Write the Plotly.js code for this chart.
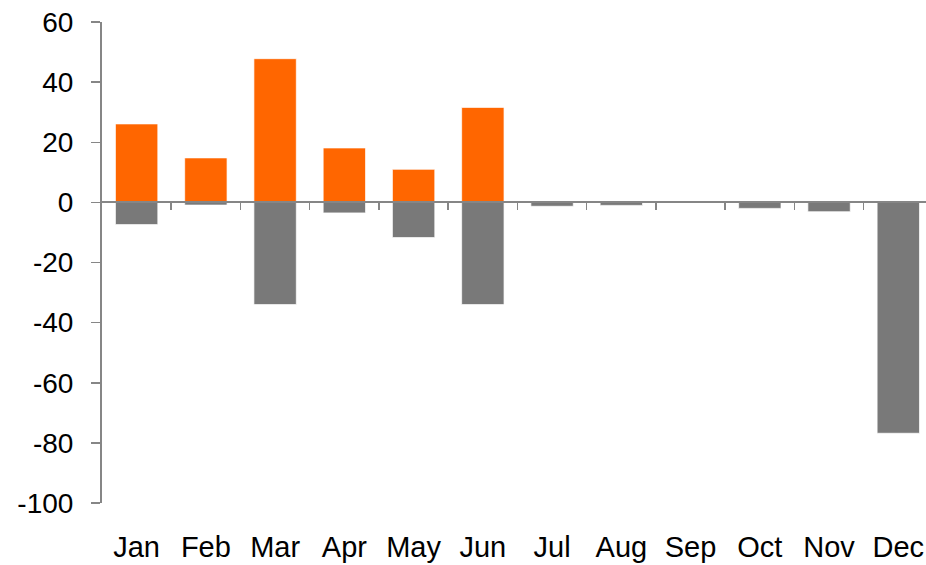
<!DOCTYPE html>
<html>
<head>
<meta charset="utf-8">
<script src="https://cdn.plot.ly/plotly-3.0.1.min.js"></script>
<style>html,body{margin:0;padding:0;background:#fff;}#chart{width:926px;height:565px;}</style>
</head>
<body>
<div id="chart"></div>
<script>
var categories = ['Jan','Feb','Mar','Apr','May','Jun','Jul','Aug','Sep','Oct','Nov','Dec'];
var positiveValues = [26.1, 14.8, 47.8, 18.1, 11.0, 31.6, 0, 0, 0, 0, 0, 0];
var negativeValues = [-7.4, -0.9, -34.0, -3.5, -11.7, -34.0, -1.3, -1.0, 0, -2.0, -3.1, -76.8];
var yTickValues = [-100, -80, -60, -40, -20, 0, 20, 40, 60];
var yTickLabels = ['-100', '-80', '-60', '-40', '-20', '0', '20', '40', '60'];

var xIndex = categories.map(function(c, i){ return i; });
var boundaries = categories.slice(1).map(function(c, i){ return i + 0.5; });

var font = {family: 'Liberation Sans, Arial, sans-serif', size: 28, color: '#000000'};
var axisColor = '#868686';

var traces = [
  {type: 'bar', x: xIndex, y: positiveValues, xaxis: 'x', yaxis: 'y',
   marker: {color: '#FF6600', line: {color: 'rgba(255,255,255,0.7)', width: 1}}, showlegend: false, hoverinfo: 'x+y'},
  {type: 'bar', x: xIndex, y: negativeValues, xaxis: 'x2', yaxis: 'y',
   marker: {color: '#797979', line: {color: 'rgba(255,255,255,0.7)', width: 1}}, showlegend: false, hoverinfo: 'x+y'}
];

var layout = {
  width: 926, height: 565,
  margin: {l: 102, r: 0, t: 22, b: 62, pad: 0},
  paper_bgcolor: '#ffffff', plot_bgcolor: '#ffffff',
  barmode: 'relative', bargap: 0.388,
  font: font,
  xaxis: {
    type: 'linear', range: [-0.5, 11.40],
    tickmode: 'array', tickvals: xIndex, ticktext: categories,
    showline: false, showgrid: false, zeroline: false, ticks: '',
    ticklabelstandoff: 24, tickfont: {family: font.family, size: 29, color: '#000000'}, fixedrange: true
  },
  xaxis2: {
    type: 'linear', range: [-0.5, 11.40], overlaying: 'x', anchor: 'free', position: 0.625,
    tickmode: 'array', tickvals: boundaries, showticklabels: false,
    ticks: 'outside', ticklen: 7, tickwidth: 1.5, tickcolor: axisColor,
    showline: true, linecolor: axisColor, linewidth: 2,
    showgrid: false, zeroline: false, layer: 'above traces'
  },
  yaxis: {
    range: [-100, 60], tickmode: 'array', tickvals: yTickValues, ticktext: yTickLabels,
    showline: true, linecolor: axisColor, linewidth: 2,
    ticks: 'outside', ticklen: 9, tickwidth: 1.5, tickcolor: axisColor,
    showgrid: false, zeroline: false, ticklabelstandoff: 12, tickfont: font, fixedrange: true
  }
};

Plotly.newPlot('chart', traces, layout, {displayModeBar: false, staticPlot: true});
</script>
</body>
</html>
